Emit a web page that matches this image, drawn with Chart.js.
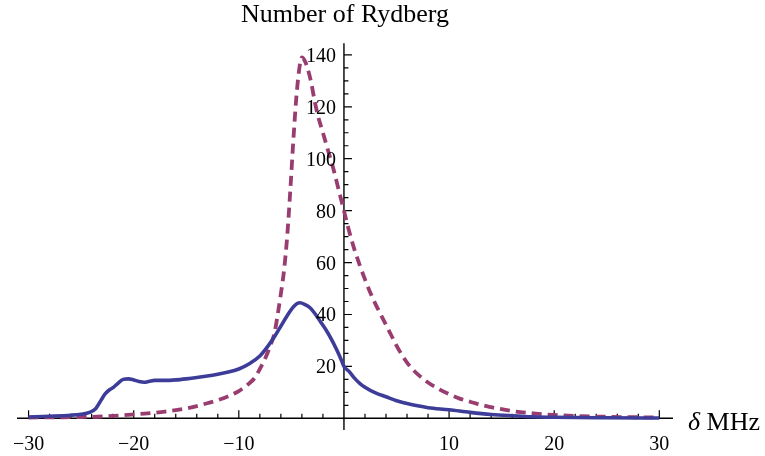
<!DOCTYPE html>
<html>
<head>
<meta charset="utf-8">
<script src="https://cdn.jsdelivr.net/npm/chart.js@4"></script>
<style>
html,body{margin:0;padding:0;background:#fff;}
#wrap{width:765px;height:456px;}
</style>
</head>
<body>
<div id="wrap"><canvas id="c" width="765" height="456"></canvas></div>
<script>
// ---- data ----
const titleText = 'Number of Rydberg';
const axisLabelSymbol = 'δ';
const axisLabelUnit = ' MHz';

const solidX = [-30,-28,-26,-25,-24.2,-23.6,-23.1,-22.7,-22.3,-21.9,-21.5,-21,-20.5,-20,-19.5,-19,-18.5,-18,-17,-16,-15,-14,-13,-12,-11,-10,-9,-8,-7.3,-6.6,-6,-5.4,-4.8,-4.2,-3.7,-3.2,-2.7,-2.2,-1.7,-1.2,-0.7,-0.2,0,0.5,1,1.5,2,3,4,5,6,7,8,10,12,14,16,18,20,25,30];
const solidY = [0.5,0.8,1.2,1.6,2.3,3.8,7,9.5,11,12,13.5,15,15.2,14.8,14.2,13.9,14.3,14.6,14.6,14.8,15.2,15.7,16.3,17,17.8,19,21,24,27.4,31.5,35.5,39.5,43,44.5,43.8,42.5,40,37,34,30.5,26.5,22,20,18,15.5,13.5,12,9.8,8.3,6.8,5.7,4.8,4.1,3.3,2.3,1.5,1,0.6,0.4,0.2,0.1];

const dashedX = [-30,-27,-25,-23,-21,-19,-17,-15,-13,-12,-11,-10,-9,-8.5,-8,-7.5,-7,-6.6,-6.3,-6,-5.7,-5.4,-5.1,-4.8,-4.5,-4.2,-4,-3.7,-3.4,-3.1,-2.8,-2.5,-2,-1.5,-1,-0.5,0,0.5,1,1.5,2,2.5,3,3.5,4,4.5,5,5.5,6,6.5,7,8,9,10,11,12,13,14,15,16,18,20,22,25,28,30];
const dashedY = [0.3,0.4,0.5,0.7,1.2,1.8,2.6,3.8,5.8,7,8.5,10.5,13.5,15.5,19,23,28,33,40,48,57,70,88,108,125,136,139,137.5,134,129,122.5,117,110,103,96,88,80,72,65,59,53.5,48.5,44,40,36,32,28,24.5,21.5,19,17,13.8,11.3,9.3,7.6,6.4,5.2,4.3,3.5,2.8,1.9,1.3,0.9,0.6,0.4,0.3];

const xMajorTicks = [-30,-20,-10,10,20,30];
const xTickLabels = ['\u221230','\u221220','\u221210','10','20','30'];
const xMinorTicks = [-28,-26,-24,-22,-18,-16,-14,-12,-8,-6,-4,-2,2,4,6,8,12,14,16,18,22,24,26,28];
const yMajorTicks = [20,40,60,80,100,120,140];
const yTickLabels = ['20','40','60','80','100','120','140'];
const yMinorTicks = [5,10,15,25,30,35,45,50,55,65,70,75,85,90,95,105,110,115,125,130,135];

const solidColor = '#3d3d99';
const dashedColor = '#993d71';
const serif = '"Liberation Serif", "DejaVu Serif", serif';

const toPoints = (xs, ys) => xs.map((v, i) => ({x: v, y: ys[i]}));

const mathAxes = {
  id: 'mathAxes',
  beforeDatasetsDraw(chart) {
    const {ctx, scales: {x, y}} = chart;
    const x0 = x.getPixelForValue(0), y0 = y.getPixelForValue(0);
    ctx.save();
    ctx.strokeStyle = '#000';
    ctx.lineWidth = 1.4;
    ctx.beginPath();
    ctx.moveTo(x.left, y0); ctx.lineTo(x.right, y0);
    ctx.moveTo(x0, y.top); ctx.lineTo(x0, y.bottom);
    ctx.stroke();
    ctx.lineWidth = 1.2;
    ctx.beginPath();
    xMajorTicks.forEach(v => { const p = x.getPixelForValue(v); ctx.moveTo(p, y0); ctx.lineTo(p, y0 - 8); });
    xMinorTicks.forEach(v => { const p = x.getPixelForValue(v); ctx.moveTo(p, y0); ctx.lineTo(p, y0 - 4.5); });
    yMajorTicks.forEach(v => { const p = y.getPixelForValue(v); ctx.moveTo(x0, p); ctx.lineTo(x0 + 8, p); });
    yMinorTicks.forEach(v => { const p = y.getPixelForValue(v); ctx.moveTo(x0, p); ctx.lineTo(x0 + 4.5, p); });
    ctx.stroke();
    ctx.restore();
  },
  afterDatasetsDraw(chart) {
    const {ctx, scales: {x, y}} = chart;
    const x0 = x.getPixelForValue(0), y0 = y.getPixelForValue(0);
    ctx.save();
    ctx.fillStyle = '#000';
    ctx.font = '20px ' + serif;
    ctx.textBaseline = 'alphabetic';
    ctx.textAlign = 'center';
    xMajorTicks.forEach((v, i) => {
      ctx.fillText(xTickLabels[i], x.getPixelForValue(v), y0 + 32);
    });
    ctx.textAlign = 'right';
    yMajorTicks.forEach((v, i) => {
      ctx.fillText(yTickLabels[i], x0 - 8, y.getPixelForValue(v) + 7);
    });
    // axis label
    ctx.textAlign = 'left';
    const lx = x.right + 15, ly = y0 + 12;
    ctx.font = 'italic 26px ' + serif;
    ctx.fillText(axisLabelSymbol, lx, ly);
    const w = ctx.measureText(axisLabelSymbol).width;
    ctx.font = '26px ' + serif;
    ctx.fillText(axisLabelUnit, lx + w, ly);
    ctx.restore();
  }
};

new Chart(document.getElementById('c'), {
  type: 'line',
  data: {
    datasets: [
      {
        label: 'solid',
        data: toPoints(solidX, solidY),
        borderColor: solidColor,
        borderWidth: 3.6,
        pointRadius: 0,
        cubicInterpolationMode: 'monotone',
        fill: false,
        clip: false
      },
      {
        label: 'dashed',
        data: toPoints(dashedX, dashedY),
        borderColor: dashedColor,
        borderWidth: 3.8,
        borderDash: [10, 6],
        pointRadius: 0,
        cubicInterpolationMode: 'monotone',
        fill: false,
        clip: false
      }
    ]
  },
  options: {
    responsive: false,
    animation: false,
    devicePixelRatio: 1,
    layout: {padding: {left: 17, right: 92, top: 0, bottom: 26}},
    scales: {
      x: {type: 'linear', min: -31.1, max: 31.3, display: false},
      y: {type: 'linear', min: -4.5, max: 144.5, display: false}
    },
    plugins: {
      legend: {display: false},
      tooltip: {enabled: false},
      title: {
        display: true,
        text: titleText,
        color: '#000',
        font: {family: serif, size: 26, weight: 'normal'},
        padding: {top: 0, bottom: 12}
      }
    }
  },
  plugins: [mathAxes]
});
</script>
</body>
</html>
